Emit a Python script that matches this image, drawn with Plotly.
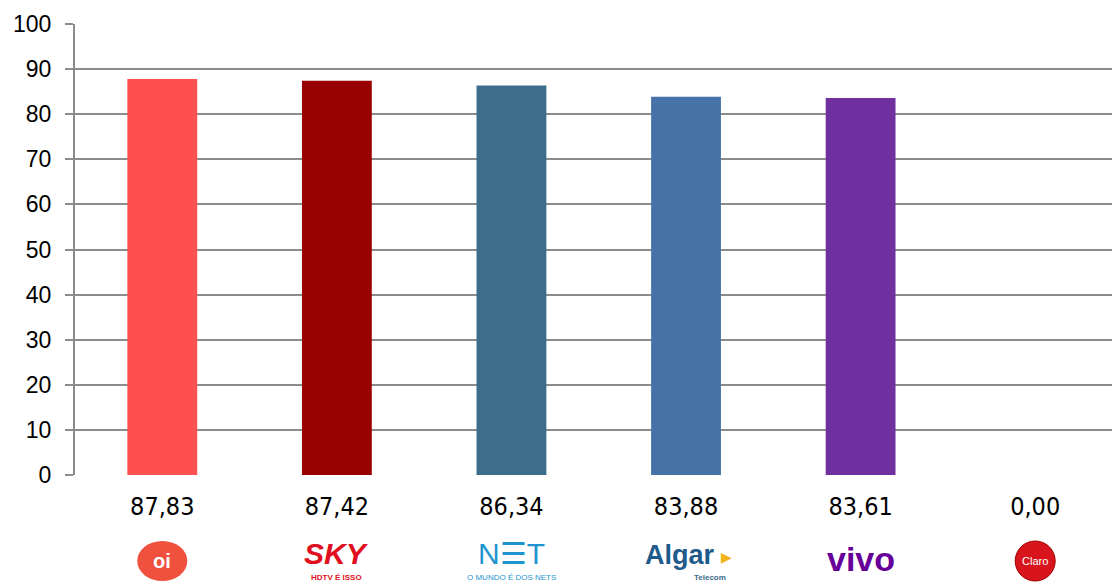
import plotly.graph_objects as go

operators = ["Oi", "SKY", "NET", "Algar", "Vivo", "Claro"]
scores = [87.83, 87.42, 86.34, 83.88, 83.61, 0.00]
bar_colors = ["#FF5050", "#990000", "#3C6E8C", "#4672A8", "#7030A0", "#C00000"]
y_ticks = [0, 10, 20, 30, 40, 50, 60, 70, 80, 90, 100]

tick_text = [f"{v:.2f}".replace(".", ",") for v in scores]
xs = list(range(len(operators)))

fig = go.Figure(go.Bar(
    x=xs, y=scores, marker=dict(color=bar_colors, line=dict(width=0)),
    width=0.4, hoverinfo="skip",
))

W, H = 1112, 582
ml, mr, mt, mb = 75, 0, 24, 107
plot_h = H - mt - mb
xr = [-0.5, 5.44]
px_per_x = (W - ml - mr) / (xr[1] - xr[0])

def py(pixel_y):
    return (H - mb - pixel_y) / plot_h

grid = "#8C8C8C"
fig.update_layout(
    width=W, height=H, margin=dict(l=ml, r=mr, t=mt, b=mb, pad=0, autoexpand=False),
    plot_bgcolor="white", paper_bgcolor="white", showlegend=False,
    bargap=0.6,
    xaxis=dict(range=xr, tickmode="array", tickvals=xs, ticktext=tick_text,
               showgrid=False, zeroline=False, showline=False, ticks="",
               tickfont=dict(family="Liberation Sans Narrow, DejaVu Sans Condensed, sans-serif",
                             size=25, color="black"),
               ticklabelstandoff=14, fixedrange=True),
    yaxis=dict(range=[0, 100], tickvals=y_ticks, showgrid=True, gridcolor=grid, gridwidth=2,
               zeroline=False, showline=True, linecolor=grid, linewidth=2,
               ticks="outside", ticklen=8, tickcolor=grid, tickwidth=2,
               tickfont=dict(family="Liberation Sans, Arial, sans-serif", size=23, color="black"),
               ticklabelstandoff=9, fixedrange=True),
)

logo_y = py(561)
ann = []
shapes = []
def px2x(p):
    return p / px_per_x

# Oi
i = operators.index("Oi")
shapes.append(dict(type="circle", xref="x", yref="paper",
                   x0=i - px2x(25), x1=i + px2x(25), y0=py(581), y1=py(541),
                   fillcolor="#F0513F", line=dict(width=0), layer="above"))
ann.append(dict(x=i, y=logo_y, text="<b>oi</b>", font=dict(color="white", size=20, family="Liberation Sans")))
# SKY
i = operators.index("SKY")
ann.append(dict(x=i, y=py(553), text="<b><i>SKY</i></b>",
                font=dict(color="#E01020", size=30, family="Liberation Sans")))
ann.append(dict(x=i, y=py(577), text="<b>HDTV É ISSO</b>",
                font=dict(color="#E01020", size=8, family="Liberation Sans")))
# NET
i = operators.index("NET")
ann.append(dict(x=i, y=py(553), text="N☰T",
                font=dict(color="#1F95CF", size=30, family="Liberation Sans")))
ann.append(dict(x=i, y=py(577), text="O MUNDO É DOS NETS",
                font=dict(color="#1F95CF", size=8, family="Liberation Sans")))
# Algar
i = operators.index("Algar")
ann.append(dict(x=i - px2x(6), y=py(555), text="<b>Algar</b>",
                font=dict(color="#1E5A8A", size=27, family="Liberation Sans")))
ann.append(dict(x=i + px2x(40), y=py(557), text="<b>▶</b>",
                font=dict(color="#F5B31A", size=14, family="DejaVu Sans")))
ann.append(dict(x=i + px2x(24), y=py(577), text="<b>Telecom</b>",
                font=dict(color="#3A6A8A", size=8, family="Liberation Sans")))
# Vivo
i = operators.index("Vivo")
ann.append(dict(x=i, y=py(559), text="<b>vivo</b>",
                font=dict(color="#660099", size=34, family="Liberation Sans")))
# Claro
i = operators.index("Claro")
shapes.append(dict(type="circle", xref="x", yref="paper",
                   x0=i - px2x(20), x1=i + px2x(20), y0=py(581), y1=py(541),
                   fillcolor="#D8141C", line=dict(color="#A00000", width=1), layer="above"))
ann.append(dict(x=i, y=logo_y, text="Claro",
                font=dict(color="white", size=11, family="Liberation Sans")))

for a in ann:
    a.update(xref="x", yref="paper", showarrow=False, xanchor="center", yanchor="middle")
fig.update_layout(annotations=ann, shapes=shapes)

fig.write_html("out.html", config={"displayModeBar": False},
               post_script="document.body.style.margin='0px';")
